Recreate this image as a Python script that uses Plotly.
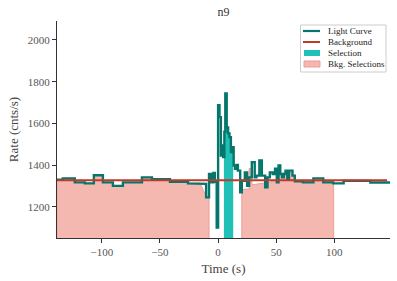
import plotly.graph_objects as go

# ---------------- data ----------------
# Light curve bin edges (s) and rates (cnts/s)
lc_edges = [-138.6, -133.6, -123.3, -114.7, -106.9, -99.1, -90.5, -81.9, -65.5, -56.9,
            -41.4, -25.9, -15.5, -10.3, -7.8, -6.0, -4.0, -2.8, -1.2, 0.0,
            1.2, 2.4, 3.4, 4.4, 5.4, 6.2, 7.4, 8.6, 9.8, 11.0,
            12.2, 13.4, 14.6, 15.8, 17.0, 19.0, 20.4, 23.0, 25.0, 26.7,
            29.0, 31.5, 33.0, 35.5, 37.6, 40.5, 42.5, 44.5, 47.0, 49.0,
            50.5, 52.0, 53.5, 55.0, 56.5, 58.0, 59.5, 61.0, 64.0, 66.0,
            73.0, 82.0, 90.5, 99.0, 108.0, 131.0, 147.9]
lc_rates = [1330, 1336, 1317, 1312, 1351, 1317, 1300, 1317, 1341, 1332,
            1320, 1312, 1310, 1245, 1357, 1317, 1362, 1320, 1100, 1687,
            1630, 1446, 1494, 1438, 1560, 1743, 1580, 1552, 1534, 1462,
            1486, 1398, 1382, 1400, 1373, 1269, 1325, 1365, 1301, 1341,
            1414, 1341, 1349, 1422, 1349, 1293, 1341, 1365, 1357, 1382,
            1317, 1398, 1357, 1341, 1357, 1373, 1333, 1373, 1349, 1322,
            1317, 1336, 1317, 1312, 1324, 1316]

# Background model
bkg_times = [-138.6, 145.4]
bkg_rates = [1327, 1327]

# Source selection interval (s)
src_sel = [5.0, 13.0]

# Background selection 1: step part of light curve until -15.5 s, then ramp
bkg_sel1 = [-138.6, -7.8]
bkg_sel1_ramp_t = [-15.5, -10.3, -7.8]
bkg_sel1_ramp_rate = [1312, 1250, 1245]

# Background selection 2 (smoothed rate curve)
bkg_sel2_t = [20.4, 26.7, 26.7, 29.0, 29.0, 35.0, 45.0, 50.0, 53.0, 58.0, 62.0, 64.0, 66.5, 69.0, 99.4]
bkg_sel2_rate = [1282, 1285, 1383, 1383, 1305, 1310, 1318, 1330, 1355, 1365, 1365, 1360, 1330, 1322, 1322]

x_range = [-138.6, 147.9]
y_range = [1050, 2091]
x_ticks = [-100, -50, 0, 50, 100]
x_ticktext = ["\u2212100", "\u221250", "0", "50", "100"]
y_ticks = [1200, 1400, 1600, 1800, 2000]

legend_labels = ["Light Curve", "Background", "Selection", "Bkg. Selections"]

# ---------------- helpers ----------------
def steps(edges, vals, lo=None, hi=None):
    xs, ys = [], []
    for i, v in enumerate(vals):
        a, b = edges[i], edges[i + 1]
        if lo is not None:
            if b <= lo:
                continue
            a = max(a, lo)
        if hi is not None:
            if a >= hi:
                continue
            b = min(b, hi)
        xs += [a, b]
        ys += [v, v]
    return xs, ys

LC_COL = "#05766b"
BKG_COL = "#c0392b"
SEL_COL = "#20c0b6"
BSEL_COL = "rgba(240,160,150,0.75)"
BSEL_SOLID = "#f4b6b0"
BSEL_EDGE = "#ee9d94"
FONT = "Liberation Serif"

W, H = 397, 281
ML, MR, MT, MB = 57, 7, 21, 43
PW, PH = W - ML - MR, H - MT - MB

def px(x):
    return (x - ML) / PW

def py(y):
    return (H - MB - y) / PH

fig = go.Figure()

# bkg selection 1
x1, y1 = steps(lc_edges, lc_rates, bkg_sel1[0], bkg_sel1_ramp_t[0])
x1 += bkg_sel1_ramp_t
y1 += bkg_sel1_ramp_rate
x1 = [x1[0]] + x1 + [x1[-1]]
y1 = [0] + y1 + [0]
fig.add_trace(go.Scatter(x=x1, y=y1, mode="lines", fill="toself", fillcolor=BSEL_COL,
                         line=dict(color=BSEL_EDGE, width=1), hoverinfo="skip"))
# bkg selection 2
x2 = [bkg_sel2_t[0]] + bkg_sel2_t + [bkg_sel2_t[-1]]
y2 = [0] + bkg_sel2_rate + [0]
fig.add_trace(go.Scatter(x=x2, y=y2, mode="lines", fill="toself", fillcolor=BSEL_COL,
                         line=dict(color=BSEL_EDGE, width=1), hoverinfo="skip"))

# source selection
xs, ys = steps(lc_edges, lc_rates, src_sel[0], src_sel[1])
xs = [xs[0]] + xs + [xs[-1]]
ys = [0] + ys + [0]
fig.add_trace(go.Scatter(x=xs, y=ys, mode="none", fill="toself", fillcolor=SEL_COL,
                         hoverinfo="skip"))

# light curve
xl, yl = steps(lc_edges, lc_rates)
fig.add_trace(go.Scatter(x=xl, y=yl, mode="lines", line=dict(color=LC_COL, width=2.4),
                         name=legend_labels[0]))

# background
fig.add_trace(go.Scatter(x=bkg_times, y=bkg_rates, mode="lines",
                         line=dict(color=BKG_COL, width=2), name=legend_labels[1]))

# ---------------- custom compact legend ----------------
shapes = []
annotations = []
# legend box
shapes.append(dict(type="rect", xref="paper", yref="paper",
                   x0=px(300.5), x1=px(386), y0=py(72), y1=py(25),
                   line=dict(color="#cccccc", width=1), fillcolor="rgba(255,255,255,0.85)",
                   layer="above"))
row_y = [31, 42, 53, 64]
# line symbols
shapes.append(dict(type="line", xref="paper", yref="paper", x0=px(303), x1=px(320),
                   y0=py(row_y[0]), y1=py(row_y[0]), line=dict(color=LC_COL, width=2.2), layer="above"))
shapes.append(dict(type="line", xref="paper", yref="paper", x0=px(303), x1=px(320),
                   y0=py(row_y[1]), y1=py(row_y[1]), line=dict(color=BKG_COL, width=2), layer="above"))
# patch symbols
shapes.append(dict(type="rect", xref="paper", yref="paper", x0=px(304), x1=px(320),
                   y0=py(row_y[2] + 3), y1=py(row_y[2] - 3), line=dict(width=0),
                   fillcolor=SEL_COL, layer="above"))
shapes.append(dict(type="rect", xref="paper", yref="paper", x0=px(304), x1=px(320),
                   y0=py(row_y[3] + 3), y1=py(row_y[3] - 3), line=dict(color=BSEL_EDGE, width=1),
                   fillcolor=BSEL_SOLID, layer="above"))
for lab, ry in zip(legend_labels, row_y):
    annotations.append(dict(text=lab, xref="paper", yref="paper", x=px(325.5), y=py(ry),
                            xanchor="left", yanchor="middle", showarrow=False,
                            font=dict(family=FONT, size=9, color="#222222")))

axis_common = dict(showgrid=False, zeroline=False, showline=True, linecolor="#333333",
                   linewidth=1, ticks="outside", ticklen=4, tickcolor="#333333",
                   tickfont=dict(family=FONT, size=11, color="#555555"))

fig.update_layout(
    width=W, height=H,
    margin=dict(l=ML, r=MR, t=MT, b=MB),
    paper_bgcolor="white", plot_bgcolor="white",
    showlegend=False,
    title=dict(text="n9", x=0.5, xref="paper", y=0.958, yanchor="middle",
               font=dict(family=FONT, size=12, color="#333333")),
    xaxis=dict(range=x_range, tickvals=x_ticks, ticktext=x_ticktext,
               title=dict(text="Time (s)", font=dict(family=FONT, size=13, color="#444444"), standoff=6),
               **axis_common),
    yaxis=dict(range=y_range, tickvals=y_ticks,
               title=dict(text="Rate (cnts/s)", font=dict(family=FONT, size=13, color="#444444"), standoff=6),
               **axis_common),
    shapes=shapes,
    annotations=annotations,
)

fig.write_html("out.html")
